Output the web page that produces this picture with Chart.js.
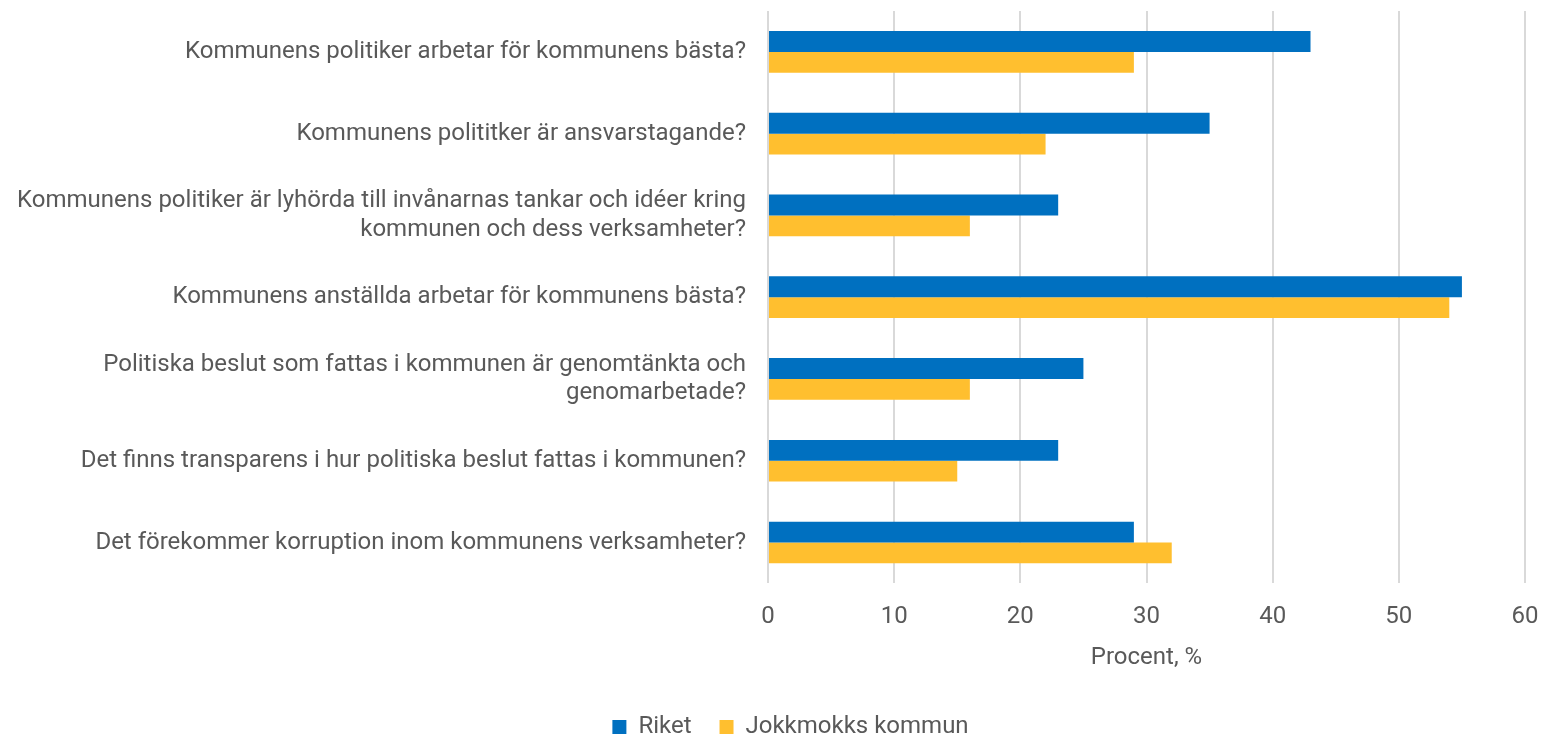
<!DOCTYPE html>
<html>
<head>
<meta charset="utf-8">
<script src="https://cdn.jsdelivr.net/npm/chart.js@4/dist/chart.umd.min.js"></script>
<style>
html,body{margin:0;padding:0;background:#fff;}
#wrap{width:1543px;height:737px;position:relative;}
</style>
</head>
<body>
<div id="wrap"><canvas id="c" width="1543" height="737"></canvas></div>
<script>
const categories = [
  "Kommunens politiker arbetar för kommunens bästa?",
  "Kommunens polititker är ansvarstagande?",
  ["Kommunens politiker är lyhörda till invånarnas tankar och idéer kring", "kommunen och dess verksamheter?"],
  "Kommunens anställda arbetar för kommunens bästa?",
  ["Politiska beslut som fattas i kommunen är genomtänkta och", "genomarbetade?"],
  "Det finns transparens i hur politiska beslut fattas i kommunen?",
  "Det förekommer korruption inom kommunens verksamheter?"
];
const riket = [43, 35, 23, 55, 25, 23, 29];
const jokkmokk = [29, 22, 16, 54, 16, 15, 32];
const seriesNames = ["Riket", "Jokkmokks kommun"];
const xTitle = "Procent, %";

const textColor = "#595959";
const fontFamily = "Roboto, 'Noto Sans', sans-serif";

// shift the legend horizontally to match the original centring
const legendShift = {
  id: 'legendShift',
  afterLayout(chart) {
    if (chart.legend) { chart.legend.left += 28; chart.legend.right += 28; }
  }
};

new Chart(document.getElementById('c'), {
  type: 'bar',
  data: {
    labels: categories,
    datasets: [
      { label: seriesNames[0], data: riket, backgroundColor: '#0070C0', categoryPercentage: 0.51, barPercentage: 1.0 },
      { label: seriesNames[1], data: jokkmokk, backgroundColor: '#FFBF2F', categoryPercentage: 0.51, barPercentage: 1.0 }
    ]
  },
  plugins: [legendShift],
  options: {
    indexAxis: 'y',
    responsive: false,
    animation: false,
    layout: { padding: { top: 11, right: 18, left: 0, bottom: -12 } },
    plugins: {
      legend: {
        position: 'bottom',
        labels: {
          color: textColor,
          font: { family: fontFamily, size: 24 },
          boxWidth: 14, boxHeight: 14,
          padding: 28
        }
      },
      tooltip: { enabled: false }
    },
    scales: {
      x: {
        min: 0, max: 60,
        ticks: { stepSize: 10, color: textColor, font: { family: fontFamily, size: 24 }, padding: 19 },
        grid: { color: '#d9d9d9', lineWidth: 2, drawTicks: false },
        border: { display: false },
        title: { display: true, text: xTitle, color: textColor, font: { family: fontFamily, size: 24 }, padding: { top: -7, bottom: 15 } },
        afterFit: (s) => { s.paddingLeft = 0; s.paddingRight = 0; }
      },
      y: {
        ticks: { color: textColor, font: { family: fontFamily, size: 24 }, padding: 22 },
        grid: { display: false, drawTicks: false },
        border: { display: false },
        afterFit: (s) => { s.width = 768; s.paddingTop = 0; s.paddingBottom = 0; }
      }
    }
  }
});
</script>
</body>
</html>
